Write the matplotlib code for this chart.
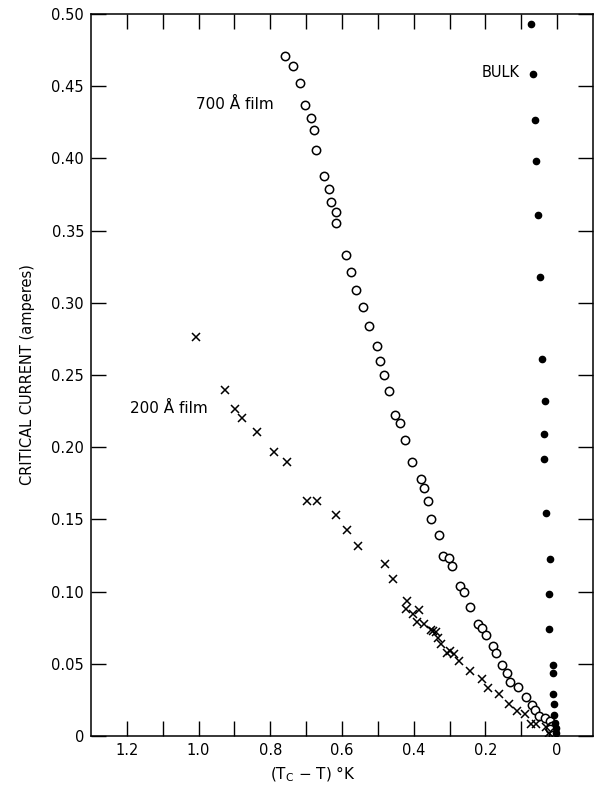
import numpy as np
import matplotlib
matplotlib.use('Agg')
import matplotlib.pyplot as plt

# 700 A film (open circles)
film700_x = [0.759, 0.738, 0.717, 0.703, 0.687, 0.679, 0.672, 0.650, 0.637, 0.632,
             0.618, 0.616, 0.589, 0.574, 0.561, 0.541, 0.524, 0.503, 0.494, 0.483,
             0.468, 0.453, 0.438, 0.425, 0.406, 0.381, 0.372, 0.361, 0.353, 0.330,
             0.319, 0.302, 0.293, 0.270, 0.259, 0.243, 0.222, 0.210, 0.199, 0.179,
             0.171, 0.154, 0.140, 0.131, 0.110, 0.0865, 0.069, 0.0614, 0.0494, 0.0335,
             0.0195, 0.015, 0.010, 0.020, 0.012]
film700_y = [0.471, 0.464, 0.452, 0.437, 0.428, 0.420, 0.406, 0.388, 0.379, 0.370,
             0.363, 0.355, 0.333, 0.321, 0.309, 0.297, 0.284, 0.270, 0.260, 0.250,
             0.239, 0.222, 0.217, 0.205, 0.190, 0.178, 0.172, 0.163, 0.150, 0.139,
             0.125, 0.123, 0.118, 0.104, 0.0997, 0.0893, 0.0778, 0.075, 0.070, 0.0621,
             0.0575, 0.0492, 0.0438, 0.0372, 0.0339, 0.0270, 0.0215, 0.0178, 0.0139, 0.0127,
             0.0104, 0.0069, 0.0035, 0.005, 0.001]

# 200 A film (crosses)
film200_x = [1.006, 0.927, 0.899, 0.880, 0.838, 0.790, 0.754, 0.697, 0.669, 0.618,
             0.585, 0.555, 0.481, 0.457, 0.419, 0.421, 0.401, 0.384, 0.392, 0.371,
             0.353, 0.345, 0.338, 0.332, 0.323, 0.308, 0.299, 0.287, 0.273, 0.243,
             0.209, 0.193, 0.161, 0.133, 0.1125, 0.090, 0.0726, 0.0595, 0.0316, 0.024]
film200_y = [0.2766, 0.2396, 0.2267, 0.220, 0.2108, 0.197, 0.190, 0.1627, 0.1627, 0.153,
             0.1424, 0.1316, 0.1193, 0.1089, 0.0935, 0.0877, 0.0843, 0.0870, 0.079, 0.0773,
             0.0732, 0.0727, 0.072, 0.068, 0.0635, 0.0577, 0.0589, 0.0566, 0.0519, 0.045,
             0.0393, 0.0335, 0.0289, 0.0224, 0.0173, 0.0154, 0.0081, 0.0085, 0.0064, 0.0023]

# bulk (filled dots)
bulk_x = [0.0734, 0.066, 0.0614, 0.0595, 0.0522, 0.0474, 0.0419, 0.0335, 0.0354, 0.0363,
          0.030, 0.0195, 0.0215, 0.0232, 0.012, 0.012, 0.012, 0.010, 0.0075, 0.0056,
          0.003, 0.003]
bulk_y = [0.4933, 0.4587, 0.4268, 0.398, 0.3608, 0.318, 0.2611, 0.232, 0.2089, 0.192,
          0.1547, 0.1228, 0.0986, 0.0743, 0.0492, 0.0438, 0.0289, 0.022, 0.0143, 0.0092,
          0.0058, 0.0023]

xticks = [1.2, 1.1, 1.0, 0.9, 0.8, 0.7, 0.6, 0.5, 0.4, 0.3, 0.2, 0.1, 0.0]
xtick_labels = ['1.2', '', '1.0', '', '0.8', '', '0.6', '', '0.4', '', '0.2', '', '0']
yticks = [0, 0.05, 0.10, 0.15, 0.20, 0.25, 0.30, 0.35, 0.40, 0.45, 0.50]
ytick_labels = ['0', '0.05', '0.10', '0.15', '0.20', '0.25', '0.30', '0.35', '0.40', '0.45', '0.50']

fig = plt.figure(figsize=(5.96, 7.91), dpi=100)
ax = fig.add_axes([91/596, 1 - 736/791, (593 - 91)/596, (736 - 14)/791])

ax.plot(film700_x, film700_y, 'o', mfc='white', mec='black', ms=6, mew=1.1, ls='none')
ax.plot(film200_x, film200_y, 'x', color='black', ms=6, mew=1.1, ls='none')
ax.plot(bulk_x, bulk_y, 'o', color='black', ms=4.5, ls='none')

ax.set_xlim(1.3, -0.1)
ax.set_ylim(0, 0.5)

ax.set_xticks(xticks)
ax.set_xticklabels(xtick_labels)
ax.set_yticks(yticks)
ax.set_yticklabels(ytick_labels)
ax.tick_params(direction='in', length=11, width=1.0, top=True, right=True,
               labelsize=10.5, pad=5)

for s in ax.spines.values():
    s.set_linewidth(1.1)

ax.text(1.006, 0.437, '700 Å film', fontsize=11, ha='left', va='center')
ax.text(1.19, 0.2265, '200 Å film', fontsize=11, ha='left', va='center')
ax.text(0.210, 0.4594, 'BULK', fontsize=10.5, ha='left', va='center')

ax.set_ylabel('CRITICAL CURRENT (amperes)', fontsize=10.5, labelpad=12)
fig.text(313/596, 1 - 774/791, r'$(\mathregular{T_C}$ $-$ $\mathregular{T})$ °K',
         fontsize=11, ha='center', va='center')

plt.savefig('out.png', dpi=100)
